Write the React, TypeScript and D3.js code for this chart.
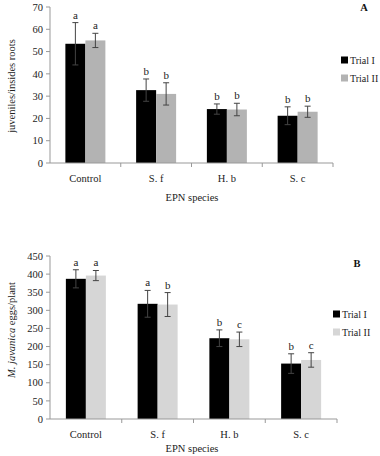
import React from "react";
import * as d3 from "d3";

const categories = ["Control", "S. f", "H. b", "S. c"];

// Panel A: juveniles/insides roots
const aTrial1 = [53.5, 32.7, 24.2, 21.2];
const aTrial1Err = [9.5, 5, 2.3, 4];
const aTrial2 = [55, 31, 24, 23];
const aTrial2Err = [3.2, 5, 2.8, 2.5];
const aLetters1 = ["a", "b", "b", "b"];
const aLetters2 = ["a", "b", "b", "b"];
const aTicks = [0, 10, 20, 30, 40, 50, 60, 70];

// Panel B: M. javanica eggs/plant
const bTrial1 = [387, 318, 223, 153];
const bTrial1Err = [25, 37, 23, 27];
const bTrial2 = [396, 316, 220, 163];
const bTrial2Err = [14, 33, 20, 20];
const bLetters1 = ["a", "a", "b", "b"];
const bLetters2 = ["a", "b", "c", "c"];
const bTicks = [0, 50, 100, 150, 200, 250, 300, 350, 400, 450];

const seriesNames = ["Trial I", "Trial II"];

const FONT = "'Liberation Serif', 'DejaVu Serif', serif";

type PanelProps = {
  t1: number[]; e1: number[]; t2: number[]; e2: number[];
  l1: string[]; l2: string[]; ticks: number[]; yMax: number;
  x0: number; x1: number; yTop: number; yBottom: number;
  gray: string; panelLabel: string; panelLabelPos: [number, number];
  legendX: number; legendY: number; yLabel: React.ReactNode; yLabelY: number;
  catY: number; titleY: number;
};

function Panel(p: PanelProps) {
  const x = d3.scaleBand<string>().domain(categories).range([p.x0, p.x1]);
  const y = d3.scaleLinear().domain([0, p.yMax]).range([p.yBottom, p.yTop]);
  const bw = 20;
  const axisColor = "#999";
  const errColor = "#444";
  const series = [
    { v: p.t1, e: p.e1, l: p.l1, fill: "#000", off: -bw },
    { v: p.t2, e: p.e2, l: p.l2, fill: p.gray, off: 0 },
  ];
  return (
    <g>
      <line x1={p.x0} x2={p.x0} y1={p.yTop} y2={p.yBottom} stroke={axisColor} />
      {p.ticks.map((t) => (
        <g key={t}>
          <line x1={p.x0 - 4} x2={p.x0} y1={y(t)} y2={y(t)} stroke={axisColor} />
          <text x={p.x0 - 7} y={y(t)} dy="0.35em" textAnchor="end" fontSize={10.5} fontFamily={FONT} fill="#222">{t}</text>
        </g>
      ))}
      {series.map((s, si) =>
        categories.map((c, i) => {
          const cx = (x(c) as number) + x.bandwidth() / 2;
          const bx = cx + s.off;
          const top = y(s.v[i]);
          const eTop = y(s.v[i] + s.e[i]);
          const eBot = y(s.v[i] - s.e[i]);
          const mx = bx + bw / 2;
          return (
            <g key={si + c}>
              <rect x={bx} y={top} width={bw} height={p.yBottom - top} fill={s.fill} />
              <line x1={mx} x2={mx} y1={eTop} y2={eBot} stroke={errColor} strokeWidth={1} />
              <line x1={mx - 3} x2={mx + 3} y1={eTop} y2={eTop} stroke={errColor} strokeWidth={1} />
              <line x1={mx - 3} x2={mx + 3} y1={eBot} y2={eBot} stroke={errColor} strokeWidth={1} />
              <text x={mx} y={eTop - 4} textAnchor="middle" fontSize={11} fontFamily={FONT} fill="#222">{s.l[i]}</text>
            </g>
          );
        })
      )}
      <line x1={p.x0} x2={p.x1} y1={p.yBottom} y2={p.yBottom} stroke={axisColor} />
      {categories.map((c) => (
        <line key={"t" + c} x1={(x(c) as number) + x.bandwidth()} x2={(x(c) as number) + x.bandwidth()} y1={p.yBottom} y2={p.yBottom + 4} stroke={axisColor} />
      ))}
      {categories.map((c) => (
        <text key={"c" + c} x={(x(c) as number) + x.bandwidth() / 2} y={p.catY} textAnchor="middle" fontSize={10.5} fontFamily={FONT} fill="#222">{c}</text>
      ))}
      <text x={192} y={p.titleY} textAnchor="middle" fontSize={10.5} fontFamily={FONT} fill="#222">EPN species</text>
      <text transform={`translate(15,${p.yLabelY}) rotate(-90)`} textAnchor="middle" fontSize={10.5} fontFamily={FONT} fill="#222">{p.yLabel}</text>
      {seriesNames.map((n, i) => (
        <g key={n}>
          <rect x={p.legendX} y={p.legendY + i * 18 - 3.5} width={7} height={7} fill={i === 0 ? "#000" : p.gray} />
          <text x={p.legendX + 9} y={p.legendY + i * 18} dy="0.35em" fontSize={10} fontFamily={FONT} fill="#222">{n}</text>
        </g>
      ))}
      <text x={p.panelLabelPos[0]} y={p.panelLabelPos[1]} textAnchor="middle" fontSize={10.5} fontWeight="bold" fontFamily={FONT} fill="#111">{p.panelLabel}</text>
    </g>
  );
}

export default function App() {
  return (
    <svg width={380} height={456} style={{ position: "absolute", left: 0, top: 0, background: "#fff" }}>
      <Panel
        t1={aTrial1} e1={aTrial1Err} t2={aTrial2} e2={aTrial2Err}
        l1={aLetters1} l2={aLetters2} ticks={aTicks} yMax={70}
        x0={50} x1={333} yTop={7} yBottom={163}
        gray="#b3b3b3" panelLabel="A" panelLabelPos={[364, 11]}
        legendX={341} legendY={60}
        yLabel="juveniles/insides roots" yLabelY={86}
        catY={182} titleY={201}
      />
      <Panel
        t1={bTrial1} e1={bTrial1Err} t2={bTrial2} e2={bTrial2Err}
        l1={bLetters1} l2={bLetters2} ticks={bTicks} yMax={450}
        x0={50} x1={337} yTop={256} yBottom={419}
        gray="#d6d6d6" panelLabel="B" panelLabelPos={[357, 267]}
        legendX={333} legendY={314}
        yLabel={<><tspan fontStyle="italic">M. javanica</tspan> eggs/plant</>} yLabelY={330}
        catY={438} titleY={452}
      />
    </svg>
  );
}
